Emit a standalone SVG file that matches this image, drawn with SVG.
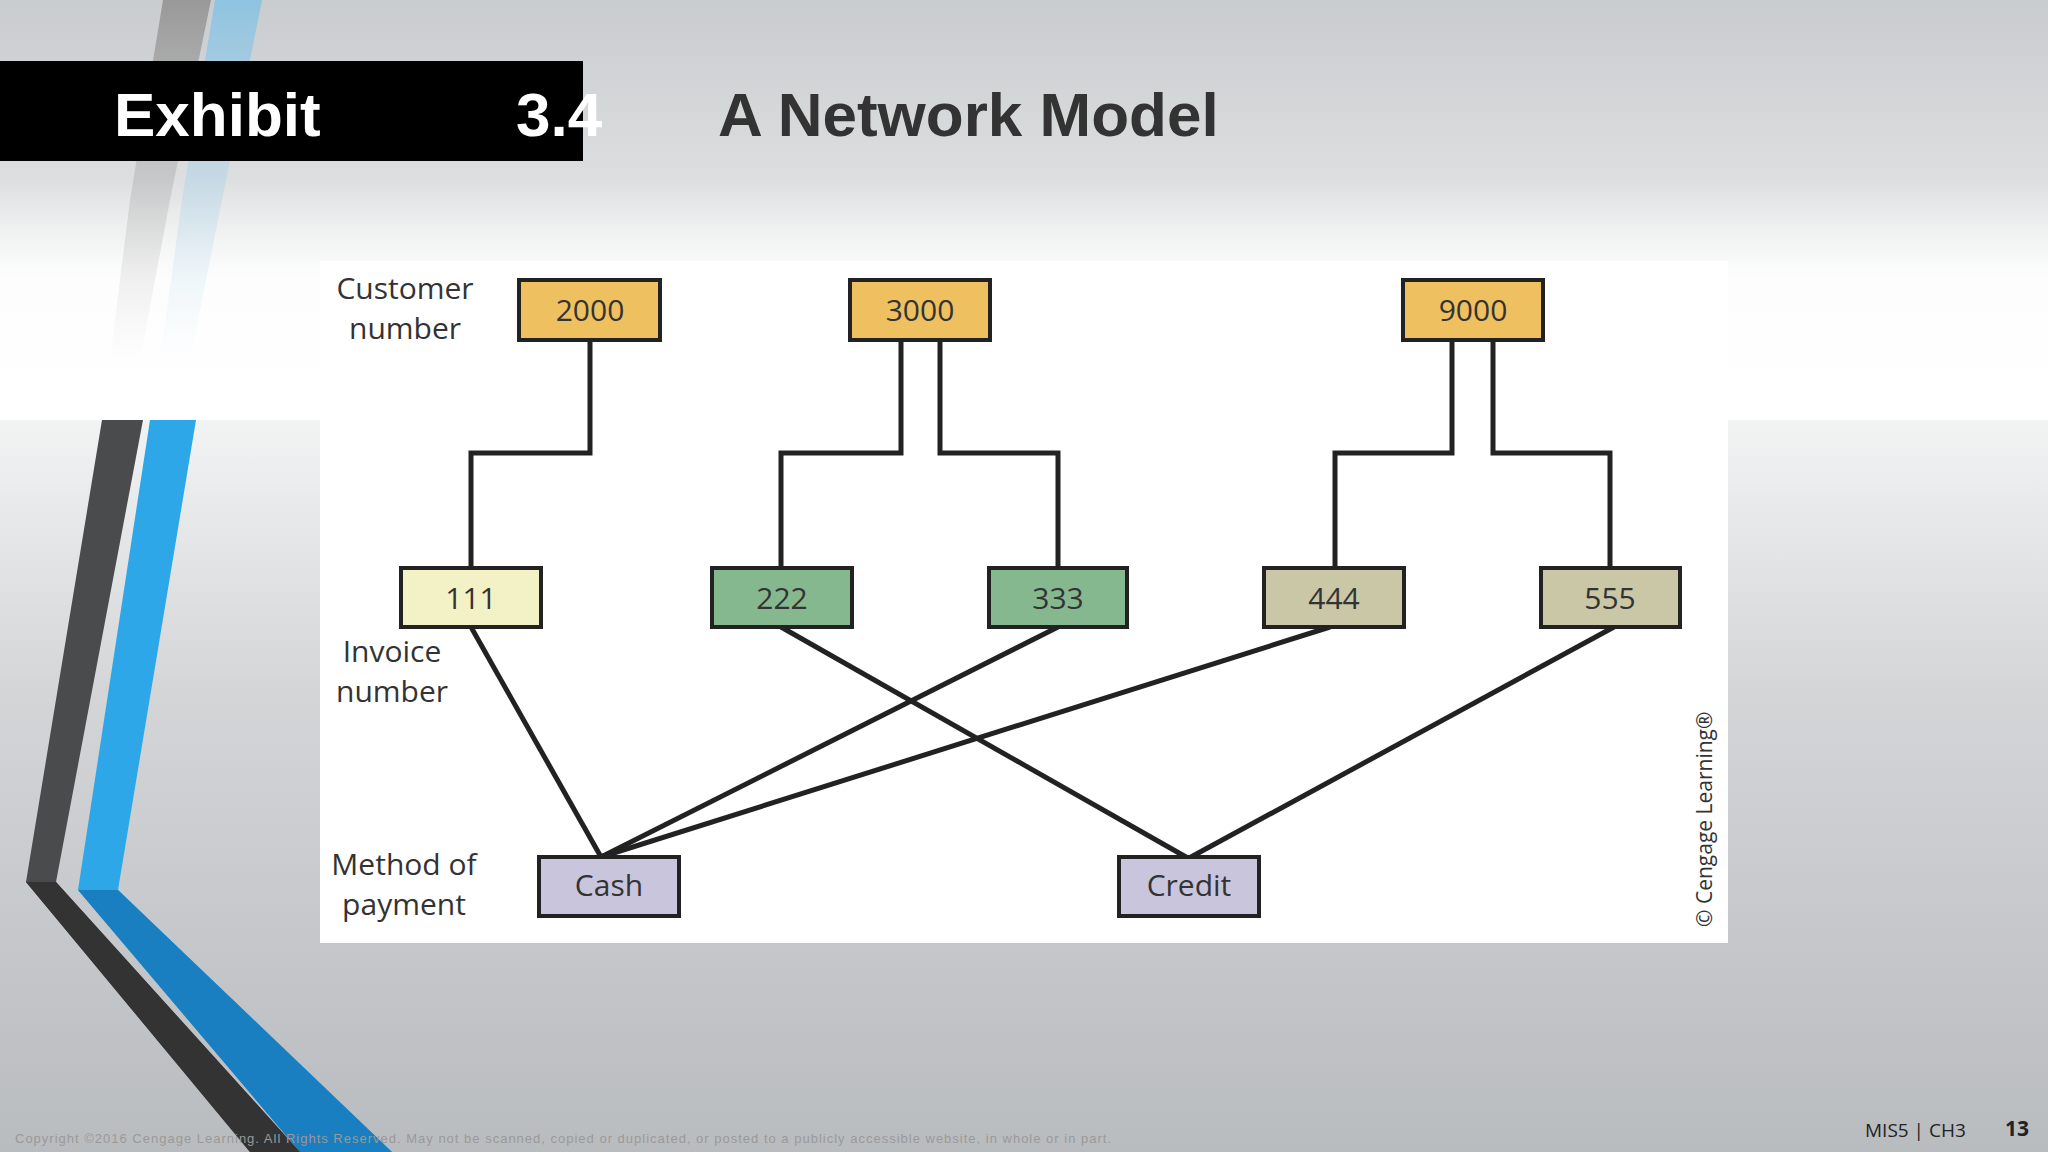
<svg xmlns="http://www.w3.org/2000/svg" width="2048" height="1152" viewBox="0 0 2048 1152">
<defs>
<linearGradient id="bg" x1="0" y1="0" x2="0" y2="1"><stop offset="0" stop-color="#c9ccce"/><stop offset="0.35" stop-color="#f4f5f5"/><stop offset="0.6" stop-color="#d3d5d7"/><stop offset="1" stop-color="#b9bcbf"/></linearGradient>
<linearGradient id="wb" x1="0" y1="0" x2="0" y2="1"><stop offset="0" stop-color="#fff" stop-opacity="0"/><stop offset="0.4" stop-color="#fff" stop-opacity="0.9"/><stop offset="1" stop-color="#fff"/></linearGradient>
<linearGradient id="up" x1="0" y1="0" x2="0" y2="1"><stop offset="0" stop-color="#999"/><stop offset="1" stop-color="#ccc" stop-opacity="0"/></linearGradient>
<linearGradient id="upb" x1="0" y1="0" x2="0" y2="1"><stop offset="0" stop-color="#8fc3e0"/><stop offset="1" stop-color="#cfe6f2" stop-opacity="0"/></linearGradient>
<style>
.n{stroke:#222;stroke-width:4}
.t{font-family:"Open Sans","Liberation Sans",sans-serif;font-size:30px;fill:#333;text-anchor:middle}
.c{fill:none;stroke:#222;stroke-width:5}
</style>
</defs>
<rect width="2048" height="1152" fill="url(#bg)"/>
<rect x="0" y="180" width="2048" height="240" fill="url(#wb)"/>
<polygon points="163,0 211,0 170,200 140,360 110,360 130,200" fill="url(#up)"/>
<polygon points="215,0 262,0 222,200 190,360 160,360 182,200" fill="url(#upb)"/>
<polygon points="102,420 143,420 56,882 300,1152 250,1152 26,882" fill="#4a4b4d"/>
<polygon points="150,420 196,420 118,890 392,1152 300,1152 78,890" fill="#2ea7e8"/>
<polygon points="78,890 118,890 392,1152 300,1152" fill="#1a7fc0"/>
<polygon points="26,882 56,882 300,1152 250,1152" fill="#333"/>
<rect x="0" y="61" width="583" height="100" fill="#000"/>
<text x="114" y="136" font-family="Liberation Sans,Arial,sans-serif" font-weight="bold" font-size="62" fill="#fff">Exhibit</text>
<text x="516" y="136" font-family="Liberation Sans,Arial,sans-serif" font-weight="bold" font-size="62" fill="#fff">3.4</text>
<text x="718" y="136" font-family="Liberation Sans,Arial,sans-serif" font-weight="bold" font-size="62" fill="#333">A Network Model</text>
<rect x="320" y="261" width="1408" height="682" fill="#fff"/>
<g id="connectors">
<polyline class="c" points="590,340 590,453 471,453 471,568"/>
<polyline class="c" points="901,340 901,453 781,453 781,568"/>
<polyline class="c" points="940,340 940,453 1058,453 1058,568"/>
<polyline class="c" points="1452,340 1452,453 1335,453 1335,568"/>
<polyline class="c" points="1493,340 1493,453 1610,453 1610,568"/>
<line class="c" x1="471" y1="627" x2="601" y2="857"/>
<line class="c" x1="781" y1="627" x2="1186" y2="857"/>
<line class="c" x1="1058" y1="627" x2="601" y2="857"/>
<line class="c" x1="1330" y1="627" x2="601" y2="857"/>
<line class="c" x1="1614" y1="627" x2="1191" y2="857"/>
</g>
<g id="n2000"><rect class="n" x="519" y="280" width="141" height="60" fill="#eec060"/><text class="t" x="590" y="321">2000</text></g>
<g id="n3000"><rect class="n" x="850" y="280" width="140" height="60" fill="#eec060"/><text class="t" x="920" y="321">3000</text></g>
<g id="n9000"><rect class="n" x="1403" y="280" width="140" height="60" fill="#eec060"/><text class="t" x="1473" y="321">9000</text></g>
<g id="n111"><rect class="n" x="401" y="568" width="140" height="59" fill="#f3f1c6"/><text class="t" x="471" y="609">111</text></g>
<g id="n222"><rect class="n" x="712" y="568" width="140" height="59" fill="#86b890"/><text class="t" x="782" y="609">222</text></g>
<g id="n333"><rect class="n" x="989" y="568" width="138" height="59" fill="#86b890"/><text class="t" x="1058" y="609">333</text></g>
<g id="n444"><rect class="n" x="1264" y="568" width="140" height="59" fill="#cac7a6"/><text class="t" x="1334" y="609">444</text></g>
<g id="n555"><rect class="n" x="1541" y="568" width="139" height="59" fill="#cac7a6"/><text class="t" x="1610" y="609">555</text></g>
<g id="cash"><rect class="n" x="539" y="857" width="140" height="59" fill="#c9c5dd"/><text class="t" x="609" y="896">Cash</text></g>
<g id="credit"><rect class="n" x="1119" y="857" width="140" height="59" fill="#c9c5dd"/><text class="t" x="1189" y="896">Credit</text></g>
<g id="labels">
<text class="t" x="405" y="299">Customer</text><text class="t" x="405" y="339">number</text>
<text class="t" x="392" y="662">Invoice</text><text class="t" x="392" y="702">number</text>
<text class="t" x="404" y="875">Method of</text><text class="t" x="404" y="915">payment</text>
<text transform="translate(1712,927) rotate(-90)" font-family="Open Sans,Liberation Sans,sans-serif" font-size="21" fill="#333">© Cengage Learning®</text>
</g>
<text x="15" y="1143" font-family="Liberation Sans,Arial,sans-serif" font-size="13" fill="#999" letter-spacing="1">Copyright ©2016 Cengage Learning. All Rights Reserved. May not be scanned, copied or duplicated, or posted to a publicly accessible website, in whole or in part.</text>
<text x="1865" y="1137" font-family="Open Sans,Liberation Sans,sans-serif" font-size="19" fill="#222">MIS5 | CH3</text>
<text x="2005" y="1136" font-family="Open Sans,Liberation Sans,sans-serif" font-size="21" font-weight="bold" fill="#222">13</text>
</svg>
